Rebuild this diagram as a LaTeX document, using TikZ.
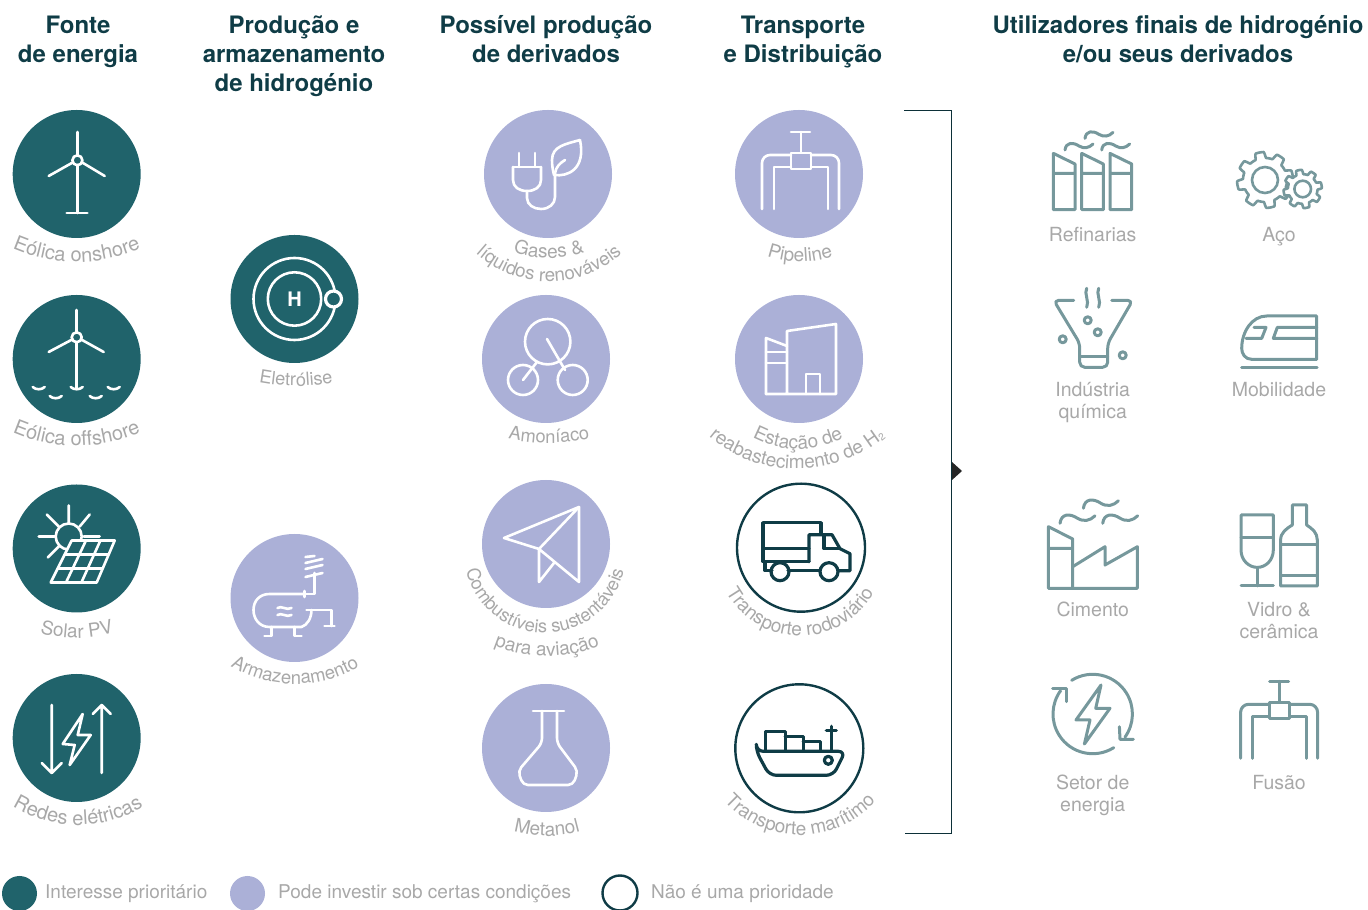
\documentclass[tikz,border=0pt]{standalone}
\usepackage{fontspec}
\setmainfont{TeX Gyre Heros}
\usetikzlibrary{decorations.text}
\definecolor{tealprio}{HTML}{20636B}
\definecolor{lavender}{HTML}{ABB0D7}
\definecolor{darkline}{HTML}{0F3C46}
\definecolor{iconline}{HTML}{76989C}
\definecolor{labelgray}{HTML}{A8A8A8}
\newcommand{\labelfont}{\fontsize{19.5}{22}\selectfont}
\newcommand{\curvelabel}[5][19]{\path[decorate,decoration={text along path,text align=center,text={|\fontsize{#1}{22}\selectfont\color{labelgray}|#5}}]
  (#2,#3) ++(170:#4) arc[start angle=170,end angle=370,radius=#4];}
\newcommand{\gearshape}[4]{\draw[fill=white] plot[domain=0:360,samples=241] ({#1+(#3+#4*max(-1,min(1,3*sin(8*\x))))*cos(\x)},{#2+(#3+#4*max(-1,min(1,3*sin(8*\x))))*sin(\x)}) -- cycle;}
\tikzset{
  prio/.style={circle,fill=tealprio,minimum size=128pt,inner sep=0pt},
  maybe/.style={circle,fill=lavender,minimum size=128pt,inner sep=0pt},
  nopri/.style={circle,draw=darkline,line width=2.4pt,minimum size=128pt,inner sep=0pt},
  heading/.style={font=\fontsize{24}{29}\selectfont\bfseries,text=darkline,align=center},
  endlabel/.style={font=\labelfont,text=labelgray,align=center,execute at begin node=\strut},
  legendtxt/.style={font=\fontsize{19}{23}\selectfont,text=labelgray,anchor=west,inner sep=0pt},
  iconw/.style={white,line width=2.6pt,line cap=round,line join=round},
  icond/.style={darkline,line width=3.2pt,line cap=round,line join=round},
  icong/.style={iconline,line width=3pt,line cap=round,line join=round},
  valvepipe/.pic={
    \draw (-8,21) rectangle (12,5);
    \draw (2,22) -- (2,42) (-8,42) -- (11,42);
    \draw[rounded corners=8pt] (-37,-35) -- (-37,19) -- (-8,19);
    \draw (-25,-35) -- (-25,7) -- (-8,7);
    \draw[rounded corners=8pt] (40,-35) -- (40,19) -- (12,19);
    \draw (29,-35) -- (29,7) -- (12,7);
  },
  smokewave/.pic={
    \draw (0,0) .. controls (1,8) and (8,8) .. (14,4) .. controls (19,1) and (24,2) .. (28,6);
  }
}
\begin{document}
\begin{tikzpicture}[x=1pt,y=1pt]
  \useasboundingbox (0,0) rectangle (1368,910);

  \node[heading] (hfonte) at (78,868.5) {Fonte\\de energia};
  \node[heading] (hproducao) at (294,854) {Produção e\\armazenamento\\de hidrogénio};
  \node[heading] (hderivados) at (546,870.5) {Possível produção\\de derivados};
  \node[heading] (htransporte) at (803,867.5) {Transporte\\e Distribuição};
  \node[heading] (hfinais) at (1178,870.5) {Utilizadores finais de hidrogénio\\e/ou seus derivados};

  \node[prio] (eolicaon) at (76.7,736) {};
  \node[prio] (eolicaoff) at (76.7,551) {};
  \node[prio] (solar) at (76.7,361.5) {};
  \node[prio] (redes) at (76.7,172) {};
  \node[prio] (eletrolise) at (294.5,611) {};
  \node[maybe] (armazenamento) at (294.5,312) {};
  \node[maybe] (gases) at (548,736) {};
  \node[maybe] (amoniaco) at (546,551) {};
  \node[maybe] (combustiveis) at (546,366) {};
  \node[maybe] (metanol) at (546,162) {};
  \node[maybe] (pipeline) at (799,736) {};
  \node[maybe] (estacao) at (799,551) {};
  \node[nopri] (rodoviario) at (801,362.3) {};
  \node[nopri] (maritimo) at (799.3,161.7) {};

  \begin{scope}[shift={(eolicaon.center)},iconw]
    \draw (0.7,42) -- (0.7,19) (0.7,9) -- (0.7,-39) (-10,-39) -- (10.7,-39);
    \draw (0.7,13.7) circle (5);
    \draw (-4,11.5) -- (-28,-2) (5.5,11.5) -- (28,-2);
  \end{scope}
  \begin{scope}[shift={(eolicaoff.center)},iconw]
    \draw (0,49) -- (0,27) (0,17) -- (0,-29);
    \draw (0,21.7) circle (5);
    \draw (-4.5,19.5) -- (-28,7) (4.5,19.5) -- (27,7);
    \foreach \wx/\wy in {-38/-28,-21/-37,0/-28,19/-37,37/-28}
      \draw (\wx-6,\wy) .. controls (\wx-3,\wy-3) and (\wx+3,\wy-3) .. (\wx+6,\wy);
  \end{scope}
  \begin{scope}[shift={(solar.center)},iconw]
    \draw (-8,43) -- (-8,25) (-30,34) -- (-18,22) (13,34) -- (3,22) (-38,12) -- (-22,12) (-29,-9) -- (-17,3) (7,12) -- (23,12);
    \draw (-8,12) circle (13);
    \draw[fill=tealprio] (-5,8) -- (38,8) -- (20,-34) -- (-26,-34) -- cycle;
    \draw (9.3,8) -- (-10.7,-34) (23.7,8) -- (4.7,-34) (-12,-6) -- (32,-6) (-19,-20) -- (26,-20);
  \end{scope}
  \begin{scope}[shift={(redes.center)},iconw]
    \draw (-25,33) -- (-25,-35) (-35,-25) -- (-25,-35) -- (-15,-25);
    \draw (25,-35) -- (25,33) (16,24) -- (25,33) -- (34,24);
    \draw (6,24) -- (-14,-6) -- (-2,-7) -- (-7,-27) -- (14,3) -- (1,3) -- cycle;
  \end{scope}
  \begin{scope}[shift={(eletrolise.center)},iconw]
    \draw (0,0) circle (26.7) (0,0) circle (41);
    \draw[fill=tealprio,line width=3.2pt] (39,0) circle (8);
    \node[font=\fontsize{20}{20}\selectfont\bfseries,text=white] (hatom) at (0,0) {H};
  \end{scope}
  \begin{scope}[shift={(armazenamento.center)},iconw]
    \draw (10,4) -- (-25,4) .. controls (-35,4) and (-41,-3) .. (-41,-12) .. controls (-41,-21) and (-35,-29) .. (-25,-29) -- (7,-29) .. controls (13,-27) and (17,-20) .. (17,-12);
    \draw (10,1) -- (10,7) (10,4) -- (20,4) -- (20,25);
    \draw (12,-12) -- (37,-12) -- (37,-28) (30,-28) -- (40,-28);
    \draw (11,41) -- (20,42) (11,35) -- (28,39) (11,29) -- (28,33) (11,21) -- (28,25);
    \draw (-23,-29) -- (-23,-38) -- (-30,-38) (0,-29) -- (0,-38) -- (7,-38);
    \foreach \wy in {-10,-17}
      \draw (-17,\wy) .. controls (-13,\wy+3) and (-8,\wy-3) .. (-3,\wy);
  \end{scope}
  \begin{scope}[shift={(gases.center)},iconw]
    \draw (-29,21) -- (-29,7) (-13,21) -- (-13,7) (-35,7) -- (-7,7);
    \draw (-35,7) -- (-35,-6) .. controls (-35,-13) and (-29,-17) .. (-21,-17) .. controls (-13,-17) and (-7,-13) .. (-7,-6) -- (-7,7);
    \draw (-21,-17) -- (-21,-24) .. controls (-21,-31) and (-14,-35) .. (-7,-35) .. controls (1,-35) and (7,-30) .. (7,-23) -- (7,1);
    \draw (32,34) .. controls (18,30) and (4,28) .. (4,14) .. controls (4,8) and (5,3) .. (6,-1) .. controls (20,-3) and (38,5) .. (32,34);
    \draw (7,1) .. controls (8,7) and (12,11) .. (17,14);
  \end{scope}
  \begin{scope}[shift={(amoniaco.center)},iconw]
    \draw (1.7,17.3) circle (22.7) (-23,-21) circle (15) (26.7,-21) circle (15);
    \draw (1,20) -- (19,-11) (-9,-3) -- (-23,-21);
  \end{scope}
  \begin{scope}[shift={(combustiveis.center)},iconw]
    \draw (33,37) -- (-42,6) -- (-7,-5) -- cycle;
    \draw (33,37) -- (33,-38) -- (-7,-5) -- (-7,-38) -- (8,-19);
  \end{scope}
  \begin{scope}[shift={(metanol.center)},iconw]
    \draw (-13,37) -- (18,37);
    \draw[rounded corners=5pt] (-4,37) -- (-4,5) -- (-28,-23) -- (-23,-37) -- (27,-37) -- (32,-23) -- (11,5) -- (11,37);
  \end{scope}
  \begin{scope}[shift={(pipeline.center)},iconw]
    \pic (valvepipeline) at (0,0) {valvepipe};
  \end{scope}
  \begin{scope}[shift={(estacao.center)},iconw]
    \draw (-33,-35) -- (37,-35) -- (37,35) -- (-12,28) -- (-12,-35);
    \draw (-33,-35) -- (-33,21) -- (-12,13);
    \draw (-33,7) -- (-12,7) (-33,-4) -- (-12,-4);
    \draw (7,-35) -- (7,-15) -- (21,-15) -- (21,-35);
  \end{scope}
  \begin{scope}[shift={(rodoviario.center)},icond]
    \draw (20,14) -- (20,25) -- (-38,25) -- (-38,-14) -- (8,-14);
    \draw (-38,-1) -- (8,-1);
    \draw (8,-14) -- (8,13) -- (31,13) -- (39,-1) -- (49,-6) -- (49,-23) -- (37,-23);
    \draw (23,13) -- (23,-1) -- (39,-1);
    \draw (19,-23) -- (-13,-23) (-36,-14) -- (-36,-23) -- (-29,-23);
    \draw (-21,-24) circle (9) (28,-24) circle (9);
  \end{scope}
  \begin{scope}[shift={(maritimo.center)},icond]
    \draw[rounded corners=7pt] (-43,-3) -- (-43,-3) -- (46,-3) -- (34,-27) -- (-30,-27) -- cycle;
    \draw (-34,-3) -- (-34,17) -- (-14,17) -- (-14,-3);
    \draw (-14,12) -- (4,12) -- (4,-3) (4,7) -- (21,7) -- (21,-3);
    \draw (32,-3) -- (32,22) (27,18) -- (37,18);
    \draw (29,-12) circle (4);
  \end{scope}

  \curvelabel[20]{76.7}{809}{161}{Eólica onshore}
  \curvelabel[20]{76.7}{625}{161}{Eólica offshore}
  \curvelabel{77}{408}{136}{Solar PV}
  \curvelabel[20]{78}{210}{125}{Redes elétricas}
  \curvelabel[18.2]{296}{724}{200}{Eletrólise}
  \curvelabel[18.5]{295}{351}{125}{Armazenamento}
  \curvelabel{549}{777}{125}{Gases {\&}}
  \curvelabel[18.7]{549}{738}{109.5}{líquidos renováveis}
  \curvelabel[18.3]{549}{667}{200}{Amoníaco}
  \curvelabel{800}{748}{100}{Pipeline}
  \curvelabel{798}{558}{97}{Estação de}
  \curvelabel{797}{577}{136}{reabastecimento de H{\raisebox{-2pt}{\fontsize{10}{10}\selectfont 2}}}
  \curvelabel[18.3]{545}{358}{81}{Combustíveis sustentáveis}
  \curvelabel{547}{392}{138}{para aviação}
  \curvelabel{547}{200}{126}{Metanol}
  \curvelabel{800}{358}{84}{Transporte rodoviário}
  \curvelabel{800}{176.5}{101.5}{Transporte marítimo}

  \coordinate (brackettop) at (904,800);
  \coordinate (bracketcorner) at (951,800);
  \coordinate (bracketlow) at (951,77);
  \coordinate (bracketend) at (905,77);
  \draw[darkline!80!black,line width=0.9pt] (brackettop) -- (bracketcorner) -- (bracketlow) -- (bracketend);
  \fill[black!85] (952,448) -- (952,430) -- (962,439) -- cycle;

  \coordinate (refinarias) at (1092.7,738.3);
  \coordinate (aco) at (1280,730);
  \coordinate (industria) at (1092.7,581.7);
  \coordinate (mobilidade) at (1280,568.3);
  \coordinate (cimento) at (1092.7,360);
  \coordinate (vidro) at (1279.3,363.3);
  \coordinate (setor) at (1092.7,196);
  \coordinate (fusao) at (1277.6,186.7);

  \begin{scope}[shift={(refinarias)},icong]
    \foreach \sx in {0,28.3}
      \draw (\sx-39.3,18.3) -- (\sx-17.7,7.7) -- (\sx-17.7,-38) -- (\sx-39.3,-38) -- cycle (\sx-39.3,-1.7) -- (\sx-17.7,-1.7);
    \draw (17.3,18.3) -- (39,7.7) -- (39,-38) -- (17.3,-38) -- cycle (17.3,-1.7) -- (39,-1.7);
    \pic at (-27.7,21.7) {smokewave};
    \pic at (-7.7,33.3) {smokewave};
    \pic at (9,21.7) {smokewave};
  \end{scope}
  \begin{scope}[shift={(aco)},icong,line width=2.6pt]
    \gearshape{-15}{0}{25}{3}
    \draw (-15,0) circle (13);
    \gearshape{22.7}{-9}{17}{2.2}
    \draw (22.7,-9) circle (8.3);
  \end{scope}
  \begin{scope}[shift={(industria)},icong]
    \draw[rounded corners=5pt] (-19,28) -- (-39,28) -- (-13,-15) -- (-13,-39) -- (15,-39) -- (15,-15) -- (40,28) -- (19,28);
    \draw (-13,-28) -- (15,-28);
    \foreach \bx in {-6,6}
      \draw (\bx,40) .. controls (\bx-3,35) and (\bx+3,27) .. (\bx,21);
    \foreach \bx/\by in {-5/8,5/-4,-30/-11,30/-27}
      \draw (\bx,\by) circle (3.5);
  \end{scope}
  \begin{scope}[shift={(mobilidade)},icong]
    \draw (36.7,25.7) -- (36.7,-17.7) -- (-28,-17.7) .. controls (-35,-17.7) and (-38.3,-12) .. (-38.3,-6.7) .. controls (-38.3,10) and (-28,25.7) .. (-13.3,25.7) -- cycle;
    \draw (-34,3.3) -- (-18.3,3.3) -- (-14,14.3) -- (-26,14.3);
    \draw (36.7,3.3) -- (-6.7,3.3) -- (-2.7,14.3) -- (36.7,14.3);
    \draw (-38.3,-25.7) -- (37,-25.7);
  \end{scope}
  \begin{scope}[shift={(cimento)},icong]
    \draw (-44.3,23.3) -- (-20,11) -- (-20,-38.3) -- (-44.3,-38.3) -- cycle (-44.3,1.7) -- (-20,1.7);
    \draw (-20,-16.7) -- (12.3,3.3) -- (12.3,-15) -- (44.7,3.3) -- (44.7,-38.3) -- (-20,-38.3);
    \pic[scale=1.25] at (-32.7,26.7) {smokewave};
    \pic[scale=1.25] at (-9.3,41.7) {smokewave};
    \pic[scale=1.25] at (10,26.7) {smokewave};
  \end{scope}
  \begin{scope}[shift={(vidro)},icong]
    \draw (-38.3,9) -- (-6,9);
    \draw (-38.3,31.7) -- (-6,31.7) -- (-6,-3.3) .. controls (-6,-14) and (-14,-20.7) .. (-22,-20.7) .. controls (-30,-20.7) and (-38.3,-14) .. (-38.3,-3.3) -- cycle;
    \draw (-22,-20.7) -- (-22,-39.3) (-38.3,-39.3) -- (-6,-39.3);
    \draw (13,41.7) -- (27.3,41.7) -- (27.3,21.7) .. controls (33,18) and (38,14) .. (38,6.7) -- (38,-39.3) -- (1.3,-39.3) -- (1.3,6.7) .. controls (1.3,14) and (7,18) .. (13,21.7) -- cycle;
    \draw (1.3,1.7) -- (38,1.7) (1.3,-29.3) -- (38,-29.3);
  \end{scope}
  \begin{scope}[shift={(setor)},icong]
    \draw (122:39.7) arc[start angle=122,end angle=-35.6,radius=39.7];
    \draw (-58:39.7) arc[start angle=-58,end angle=-216,radius=39.7];
    \draw (26.7,-12.7) -- (27.3,-25.3) -- (40.7,-25.3);
    \draw (-40,25.7) -- (-26.7,25.7) -- (-26.7,12.3);
    \draw (8.3,29) -- (-16.7,-6) -- (-2.7,-6) -- (-8.3,-30) -- (17.3,5.7) -- (3,5.7) -- cycle;
  \end{scope}
  \begin{scope}[shift={(fusao)},icong]
    \pic (valvefusao) at (0,0) {valvepipe};
  \end{scope}

  \node[endlabel] (trefinarias) at (1092.7,673) {Refinarias};
  \node[endlabel] (taco) at (1279,673) {Aço};
  \node[endlabel] (tindustria) at (1092.7,506) {Indústria\\química};
  \node[endlabel] (tmobilidade) at (1279,518) {Mobilidade};
  \node[endlabel] (tcimento) at (1092.7,298) {Cimento};
  \node[endlabel] (tvidro) at (1279,286) {Vidro \&\\cerâmica};
  \node[endlabel] (tsetor) at (1092.7,113) {Setor de\\energia};
  \node[endlabel] (tfusao) at (1279,125) {Fusão};

  \node[prio,minimum size=35pt] (legprio) at (19.5,16.5) {};
  \node[maybe,minimum size=35pt] (legmaybe) at (247.5,16.5) {};
  \node[nopri,minimum size=35pt] (legnopri) at (620,17) {};
  \node[legendtxt] (tlegprio) at (45,16) {Interesse prioritário};
  \node[legendtxt] (tlegmaybe) at (278,16) {Pode investir sob certas condições};
  \node[legendtxt] (tlegnopri) at (651,16) {Não é uma prioridade};
\end{tikzpicture}
\end{document}
